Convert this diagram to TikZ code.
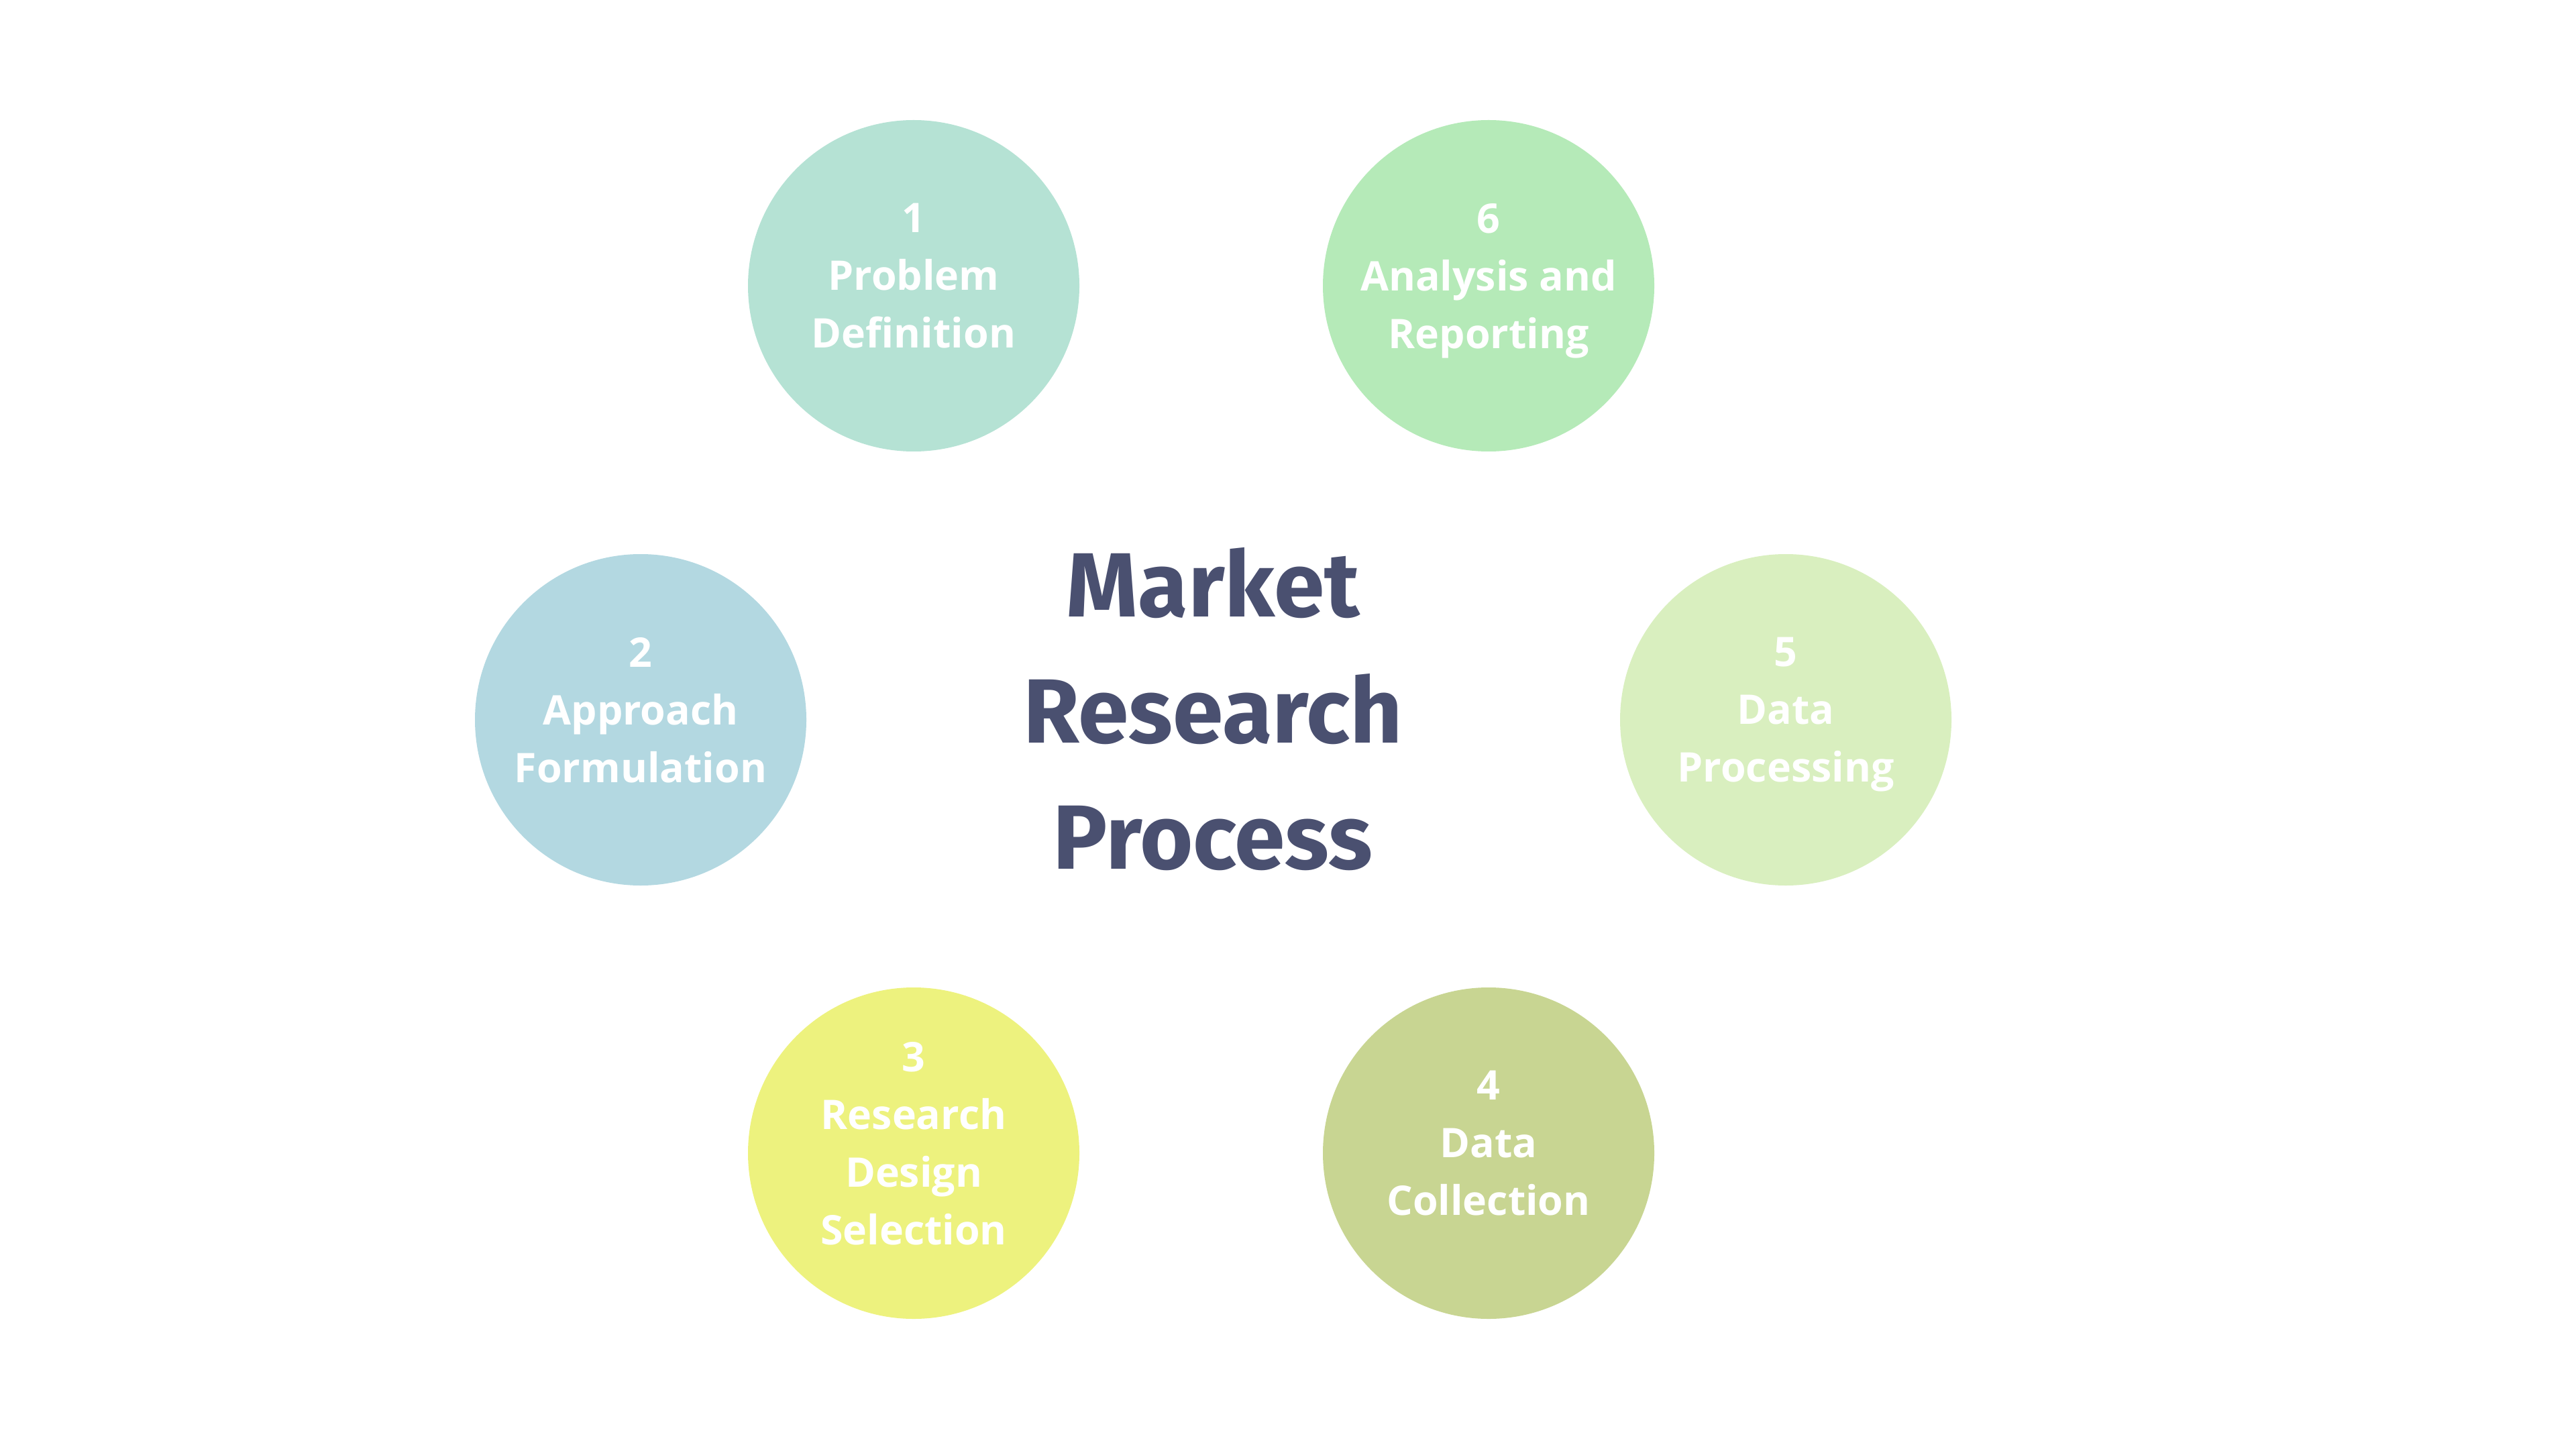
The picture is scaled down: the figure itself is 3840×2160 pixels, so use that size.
\documentclass[tikz,border=0pt]{standalone}
\usepackage{fontspec}
\setmainfont{Open Sans}
\newfontfamily\titlefont{Fira Sans}
\usetikzlibrary{positioning}
\definecolor{probcol}{HTML}{B5E2D4}
\definecolor{apprcol}{HTML}{B3D8E1}
\definecolor{desicol}{HTML}{EDF27E}
\definecolor{collcol}{HTML}{C8D592}
\definecolor{proccol}{HTML}{D9EFBF}
\definecolor{repocol}{HTML}{B5EAB8}
\definecolor{titlecol}{HTML}{4A5070}

\begin{document}
\begin{tikzpicture}[x=0.25pt,y=-0.25pt,
    stage/.style={circle,minimum size=123.5pt,inner sep=0pt,text=white,align=center,
      text depth=7.4pt,font=\fontsize{15.2}{21.5}\selectfont\bfseries}]
    \useasboundingbox (0,0) rectangle (3840,2160);
    % Title in the middle
    \node[text=titlecol,align=center,font=\titlefont\fontsize{34}{47}\selectfont\bfseries]
      (title) at (1808,1057) {Market\\Research\\Process};
    % Six steps round the title
    \node[stage,fill=probcol] (prob) at (1362,426) {1\\Problem\\Definition};
    \node[stage,fill=apprcol] (appr) at (955,1073) {2\\Approach\\Formulation};
    \node[stage,fill=desicol] (desi) at (1362,1719) {3\\Research\\Design\\Selection};
    \node[stage,fill=collcol] (coll) at (2219,1719) {4\\Data\\Collection};
    \node[stage,fill=proccol] (proc) at (2662,1073) {5\\Data\\Processing};
    \node[stage,fill=repocol] (repo) at (2219,426) {6\\Analysis and\\Reporting};
\end{tikzpicture}
\end{document}
